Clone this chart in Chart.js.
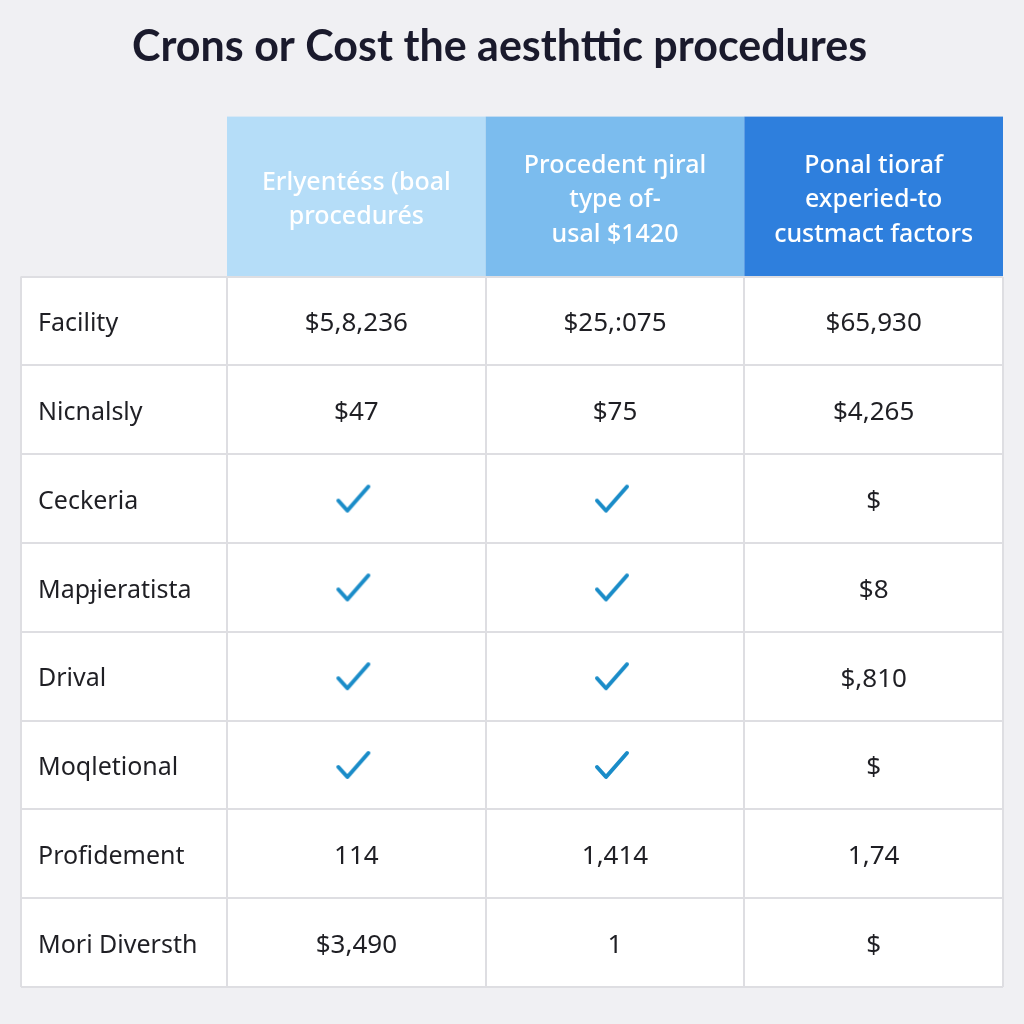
<!DOCTYPE html>
<html>
<head>
<meta charset="utf-8">
<script src="https://cdn.jsdelivr.net/npm/chart.js@4"></script>
<style>
  body { margin: 0; background: #f0f0f3; }
  #wrap { width: 1024px; height: 1024px; position: relative; }
</style>
</head>
<body>
<div id="wrap"><canvas id="table-chart"></canvas></div>
<script>
const titleText = 'Crons or Cost the aesthttic procedures';
const rowLabels = ['Facility', 'Nicnalsly', 'Ceckeria', 'Mapɟieratista', 'Drival', 'Moqletional', 'Profidement', 'Mori Diversth'];
const colKeys = ['c1', 'c2', 'c3'];
const colHeaders = [
    ['Erlyentéss (boal', 'procedurés'],
    ['Procedent ŋiral', 'type of-', 'usal $1420'],
    ['Ponal tioraf', 'experied-to', 'custmact factors']
];
const col1Values = ['$5,8,236', '$47', '✓', '✓', '✓', '✓', '114', '$3,490'];
const col2Values = ['$25,:075', '$75', '✓', '✓', '✓', '✓', '1,414', '1'];
const col3Values = ['$65,930', '$4,265', '$', '$8', '$,810', '$', '1,74', '$'];
const headerColors = ['#b5ddf8', '#7bbcee', '#2e7fdd'];

const columns = [col1Values, col2Values, col3Values];
const gridColor = '#dedee2';
const labelColWidth = 206;

// check marks become points of a scatter dataset
let checkPoints = [];
columns.forEach((vals, c) => {
    vals.forEach((v, r) => {
        if (v === '✓') checkPoints.push({x: colKeys[c], y: rowLabels[r]});
    });
});

function makeCheck() {
    let cv = document.createElement('canvas');
    cv.width = 44; cv.height = 44;
    let g = cv.getContext('2d');
    g.strokeStyle = '#1a8cc8';
    g.lineWidth = 4;
    g.lineCap = 'round';
    g.lineJoin = 'round';
    g.beginPath();
    g.moveTo(4, 24);
    g.lineTo(13, 34);
    g.lineTo(34, 10);
    g.stroke();
    return cv;
}

const tablePlugin = {
    id: 'tableCells',
    beforeDraw(chart) {
        let ctx = chart.ctx;
        let x = chart.scales.x;
        let area = chart.chartArea;
        ctx.save();
        // white body incl. label column
        ctx.fillStyle = '#ffffff';
        ctx.fillRect(area.left - labelColWidth, area.top, area.right - area.left + labelColWidth, area.bottom - area.top);
        // header cells
        colKeys.forEach((k, i) => {
            let l = x.getPixelForValue(i - 0.5);
            let r = x.getPixelForValue(i + 0.5);
            ctx.fillStyle = headerColors[i];
            ctx.fillRect(l, x.top, r - l, x.bottom - x.top);
        });
        ctx.restore();
    },
    afterDraw(chart) {
        let ctx = chart.ctx;
        let area = chart.chartArea;
        ctx.save();
        ctx.strokeStyle = gridColor;
        ctx.lineWidth = 2;
        ctx.beginPath();
        ctx.moveTo(area.left - labelColWidth, area.top);
        ctx.lineTo(area.left - labelColWidth, area.bottom);
        ctx.stroke();
        ctx.restore();
    },
    afterDatasetsDraw(chart) {
        let ctx = chart.ctx;
        let x = chart.scales.x, y = chart.scales.y;
        ctx.save();
        ctx.fillStyle = '#1f1f24';
        ctx.font = '26px "Noto Sans"';
        ctx.textAlign = 'center';
        ctx.textBaseline = 'middle';
        columns.forEach((vals, c) => {
            vals.forEach((v, r) => {
                if (v === '✓') return;
                ctx.fillText(v, x.getPixelForValue(c), y.getPixelForValue(r) + 3);
            });
        });
        ctx.restore();
    }
};

let ctx = document.getElementById('table-chart').getContext('2d');
new Chart(ctx, {
    type: 'scatter',
    data: {
        datasets: [{
            label: 'Included',
            data: checkPoints,
            pointStyle: makeCheck(),
            pointRadius: 10
        }]
    },
    options: {
        responsive: true,
        maintainAspectRatio: false,
        animation: false,
        layout: { padding: { left: 21 + 17, right: 21, bottom: 37, top: 0 } },
        plugins: {
            legend: { display: false },
            tooltip: { enabled: false },
            title: {
                display: true,
                // trailing spaces nudge the centred title a little to the left
                text: titleText + '\u00a0\u00a0\u00a0\u00a0',
                color: '#1a1a2c',
                font: { family: 'Lato', size: 43, weight: 'bold', lineHeight: 1.2 },
                padding: { top: 21, bottom: 44 }
            }
        },
        scales: {
            x: {
                type: 'category',
                position: 'top',
                labels: colKeys,
                offset: true,
                afterFit(scale) { scale.height = 160; },
                grid: { offset: true, drawTicks: false, color: gridColor, lineWidth: 2 },
                border: { display: false },
                ticks: {
                    autoSkip: false,
                    maxRotation: 0,
                    crossAlign: 'center',
                    padding: 42,
                    color: '#ffffff',
                    font: { family: 'Noto Sans', size: 25, weight: '500', lineHeight: 1.38 },
                    callback: (v, i) => colHeaders[i]
                }
            },
            y: {
                type: 'category',
                labels: rowLabels,
                offset: true,
                afterFit(scale) { scale.width = labelColWidth - 17; },
                grid: { offset: true, drawTicks: true, tickLength: labelColWidth, color: gridColor, tickColor: gridColor, lineWidth: 2 },
                border: { display: false },
                ticks: {
                    autoSkip: false,
                    crossAlign: 'far',
                    labelOffset: 3,
                    color: '#1f1f24',
                    font: { family: 'Noto Sans', size: 25 }
                }
            }
        }
    },
    plugins: [tablePlugin]
});
</script>
</body>
</html>
